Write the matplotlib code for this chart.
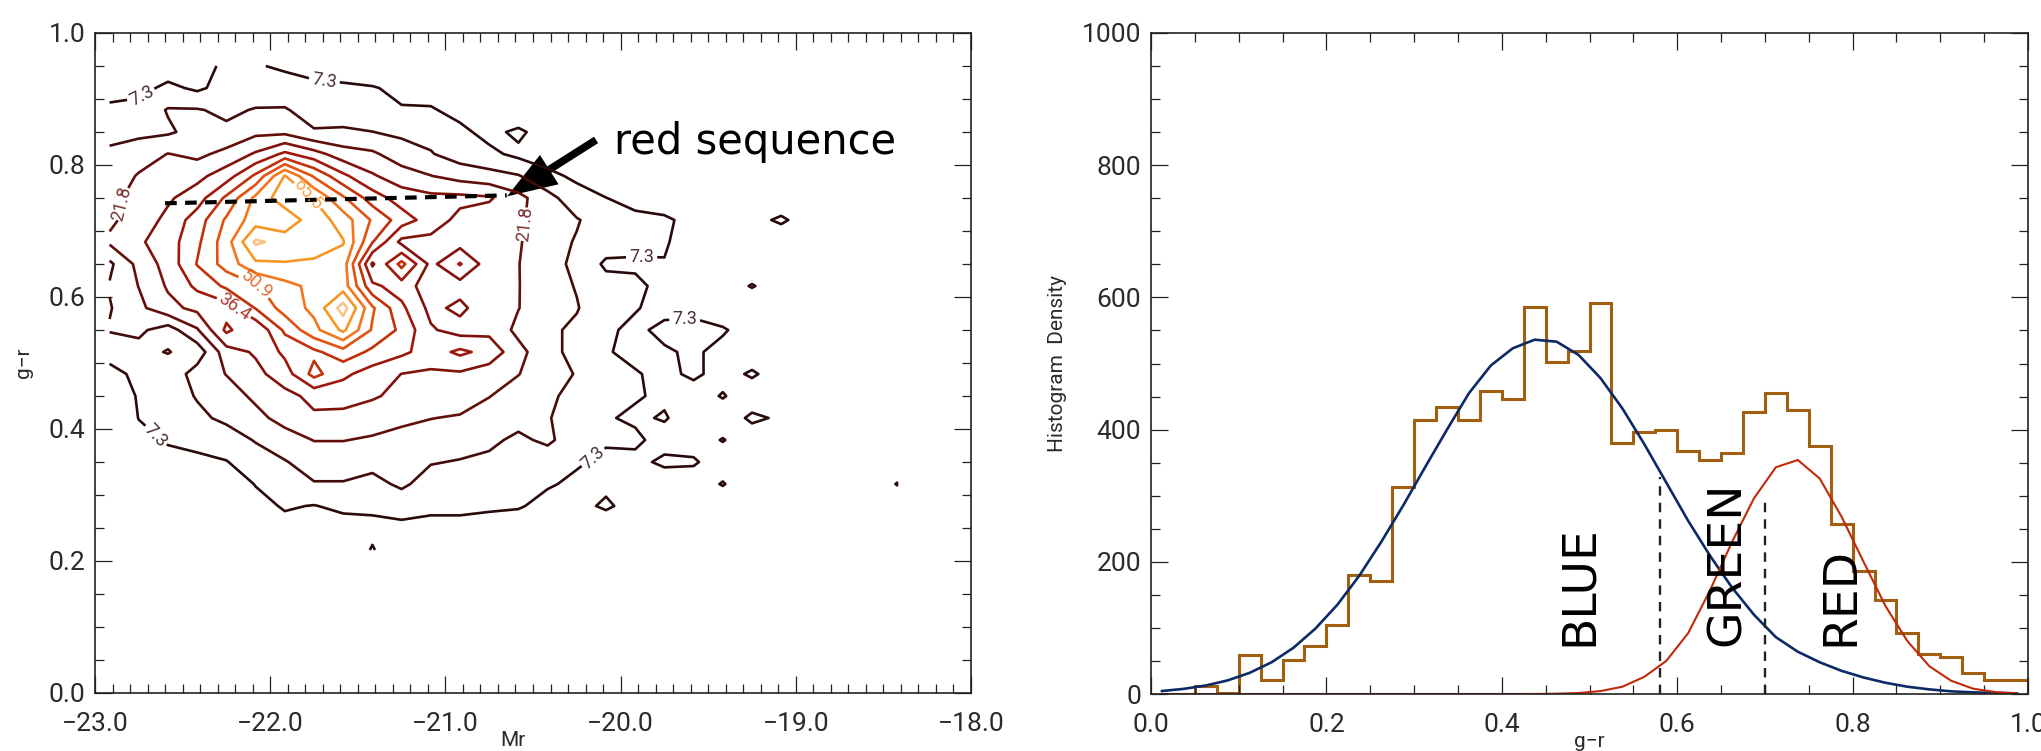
import numpy as np
import matplotlib
matplotlib.use("Agg")
from matplotlib import pyplot as plt
from matplotlib.patches import FancyArrowPatch
from matplotlib.ticker import MultipleLocator, FuncFormatter

# colour-magnitude grid: bins of 1/6 mag in Mr, 1/30 in g-r
MR_START, MR_BIN = -23.0, 1.0 / 6.0
GR_START, GR_BIN = 0.0, 1.0 / 30.0
GR_FIRST_ROW = 6  # rows below this one are empty

# galaxy counts per bin, top row (g-r ~ 0.95) first, Mr from -22.92 rightwards
counts_rows = [
    [0, 0, 3, 4, 9, 8, 6, 3, 2, 0, 0, 0, 0, 0, 0, 0, 0, 0, 0, 0, 0, 0, 0, 0, 0, 0, 0, 0],
    [4, 5, 9, 6, 10, 10, 11, 10, 9, 8, 5, 4, 2, 0, 0, 0, 0, 0, 0, 0, 0, 0, 0, 0, 0, 0, 0, 0],
    [9, 10, 15, 15, 13, 15, 15, 12, 11, 10, 8, 8, 5, 3, 0, 0, 0, 0, 0, 0, 0, 0, 0, 0, 0, 0, 0, 0],
    [12, 13, 13.5, 17, 16, 20, 20, 15, 15.5, 14.6, 13, 12, 9, 5, 9, 3, 0, 0, 0, 0, 0, 0, 0, 0, 0, 0, 0, 0],
    [16, 18, 22, 20, 24, 30, 38, 32, 25, 23, 18, 15, 11, 9, 5.5, 4, 2, 0, 0, 0, 0, 0, 0, 0, 0, 0, 0, 0],
    [17, 22.5, 25, 27, 33, 45, 66, 50, 38, 30, 25, 22, 19, 17, 15, 9, 6, 3, 0, 0, 0, 0, 0, 0, 0, 0, 0, 0],
    [20, 24, 28, 33, 45, 60, 70, 65, 52, 40, 33, 31, 31, 30, 24, 17, 10, 7.4, 5, 3, 0, 0, 0, 0, 0, 0, 0, 0],
    [20.5, 25, 31, 40, 52, 62, 60, 70, 62, 50, 40, 33, 27, 25, 23, 18, 15, 11, 9, 8.5, 5, 3, 4, 9, 2, 0, 0, 0],
    [23, 28, 33, 42, 55, 74, 70, 70, 66, 44, 27, 27, 26, 25, 22.5, 17, 14, 11, 10, 8, 4, 2, 0, 0, 0, 0, 0, 0],
    [13, 24, 32, 44, 54, 64, 65, 64, 62, 28, 46, 27, 37, 25, 22, 17, 13, 6, 6, 7, 3, 0, 0, 0, 0, 0, 0, 0],
    [15, 22, 30, 38, 45, 50, 56, 60, 62, 38, 33, 25, 26, 24, 22, 18, 14, 10, 9, 5, 3, 2, 8, 2, 0, 0, 0, 0],
    [14, 20, 27, 31, 33, 44, 54, 60, 76, 52, 38, 27, 31, 24, 22, 17, 15, 9, 8, 4, 3, 0, 0, 0, 0, 0, 0, 0],
    [15, 16, 11, 21, 38, 30, 45, 56, 67, 50, 42, 30, 26, 27, 20, 16, 13, 9, 5, 10, 12, 8.5, 2, 0, 0, 0, 0, 0],
    [10, 12, 15, 10, 26, 30, 38, 42, 48, 42, 38, 33, 38, 34, 24, 17, 12, 8, 5, 6, 9, 4, 2, 0, 0, 0, 0, 0],
    [5, 9, 9, 18, 22, 27, 33, 46, 38, 33, 29, 28, 28, 25, 22, 18, 14, 10, 8, 5, 9, 4, 8.5, 3, 0, 0, 0, 0],
    [2, 8, 11, 15, 19, 23, 27, 31, 32, 30, 27, 24, 26, 22, 19, 16, 12, 9, 8, 6, 3, 8, 2, 0, 0, 0, 0, 0],
    [0, 7.5, 10, 13, 16, 20, 24, 28, 27, 25, 23, 22, 21, 19, 17, 15, 11, 8, 6, 8, 3, 2, 9, 6, 0, 0, 0, 0],
    [0, 5, 8, 9, 11, 15, 19, 22, 22, 21, 20, 18, 18, 16, 13, 16, 10, 8, 9, 4, 3, 7.8, 2, 0, 0, 0, 0, 0],
    [0, 3, 5, 6, 7, 11, 14, 18, 18, 17, 16, 15, 14, 13, 11, 10, 8, 6, 5, 9, 8.5, 2, 0, 0, 0, 0, 0, 0],
    [0, 0, 0, 0, 3, 7.6, 10, 14, 14, 12, 16, 11, 10, 10, 9, 8, 6, 5, 3, 2, 2, 8, 0, 0, 0, 0, 0, 8],
    [0, 0, 0, 0, 0, 5, 8, 7, 9, 9, 9.5, 9, 9, 8.5, 8, 5, 4, 9, 3, 0, 0, 0, 0, 0, 0, 0, 0, 0],
    [0, 0, 0, 0, 0, 0, 5, 3, 4, 5, 6, 5, 5, 4, 3, 0, 0, 0, 0, 0, 0, 0, 0, 0, 0, 0, 0, 0],
    [0, 0, 0, 0, 0, 0, 0, 0, 0, 8, 0, 0, 0, 0, 0, 0, 0, 0, 0, 0, 0, 0, 0, 0, 0, 0, 0, 0],
]

contour_levels = [7.3, 14.5, 21.8, 29.1, 36.4, 43.6, 50.9, 58.2, 65.5, 72.7]
level_colors = ["#280a0a", "#420c0a", "#620f0c", "#80120c", "#a0180c",
                "#c2300c", "#e2520f", "#f4761a", "#f89624", "#f9c48a"]
# every other level carries a label
label_spots = {
    7.3: [(-22.76, 0.912), (-21.69, 0.930), (-19.88, 0.662), (-19.63, 0.556),
          (-22.63, 0.395), (-20.05, 0.332)],
    21.8: [(-22.87, 0.742), (-20.50, 0.709)],
    36.4: [(-22.20, 0.586)],
    50.9: [(-22.07, 0.622)],
    65.5: [(-21.74, 0.763)],
}

# g-r histogram, bins of 0.025 starting at 0.05
hist_start, hist_bin = 0.05, 0.025
hist_density = [12, 2, 59, 21, 52, 72, 104, 180, 171, 313,
                415, 434, 414, 459, 446, 585, 503, 519, 592, 379,
                396, 399, 367, 354, 364, 427, 455, 430, 375, 257,
                186, 142, 93, 60, 56, 32, 21, 21]

# two-component fit sampled at bin centres 0.0125 ... 0.9875
fit_blue = [4.5, 7.8, 12.9, 20.6, 32, 48, 70, 99, 135, 179,
            230, 285, 343, 400, 455, 497, 523, 536, 533, 513,
            478, 432, 378, 320, 262, 209, 161, 120, 86, 64,
            48, 35, 25, 17, 11, 7, 4, 2.5, 1.5, 1]
fit_red = [0, 0, 0, 0, 0, 0, 0, 0, 0, 0,
           0, 0, 0, 0, 0, 0, 0, 0.1, 0.5, 1.5,
           4.4, 11, 26, 50, 92, 157, 230, 296, 343, 354,
           326, 268, 200, 133, 80, 42, 20, 8, 3, 1]

green_valley = [(0.58, 328), (0.70, 296)]
zone_names = [("BLUE", 0.488), ("GREEN", 0.657), ("RED", 0.787)]

TICK_FONT = ["Roboto", "DejaVu Sans"]
TEXT_GREY = "#2a2a2a"


def style_ticks(ax, xmajor, xminor, ymajor, yminor, xfmt, yfmt):
    ax.xaxis.set_major_locator(MultipleLocator(xmajor))
    ax.xaxis.set_minor_locator(MultipleLocator(xminor))
    ax.yaxis.set_major_locator(MultipleLocator(ymajor))
    ax.yaxis.set_minor_locator(MultipleLocator(yminor))
    ax.xaxis.set_major_formatter(FuncFormatter(lambda v, p: (xfmt % v).replace("-", "\u2212")))
    ax.yaxis.set_major_formatter(FuncFormatter(lambda v, p: yfmt % v))
    ax.tick_params(which="both", direction="in", top=True, right=True,
                   color="#222222", width=0.9, labelsize=19, labelcolor=TEXT_GREY)
    ax.tick_params(which="major", length=12)
    ax.tick_params(which="minor", length=6.5)
    ax.tick_params(axis="x", which="major", pad=14)
    ax.tick_params(axis="y", which="major", pad=7)
    for lab in ax.get_xticklabels() + ax.get_yticklabels():
        lab.set_family(TICK_FONT)
    for sp in ax.spines.values():
        sp.set_linewidth(1.2)
        sp.set_color("#222222")


fig = plt.figure(figsize=(20.41, 7.51), dpi=100)
W, H = 2041.0, 751.0

# left: colour-magnitude contours
ax1 = fig.add_axes([95 / W, 1 - 693 / H, 876 / W, 660 / H])
grid = np.array(counts_rows[::-1], dtype=float)
mr = MR_START + (np.arange(grid.shape[1]) + 0.5) * MR_BIN
gr = GR_START + (np.arange(grid.shape[0]) + GR_FIRST_ROW + 0.5) * GR_BIN
for lev, col in zip(contour_levels, level_colors):
    cs = ax1.contour(mr, gr, grid, levels=[lev], colors=[col], linewidths=1.9)
    if lev in label_spots:
        texts = ax1.clabel(cs, manual=label_spots[lev], fmt="%.1f", inline=True,
                           inline_spacing=3, fontsize=13)
        for t in texts:
            t.set_family(TICK_FONT)
            t.set_alpha(0.85)

ax1.plot([-22.60, -20.65], [0.742, 0.754], color="black", lw=3,
         dashes=(2.8, 2.0))
ax1.add_patch(FancyArrowPatch((-20.14, 0.838), (-20.648, 0.7524),
                              arrowstyle="simple,head_length=3.6,head_width=2.5,tail_width=0.55",
                              mutation_scale=10, color="black", lw=0,
                              shrinkA=0, shrinkB=0))
ax1.text(-20.04, 0.817, "red sequence", fontsize=30, color="black",
         family="DejaVu Sans", ha="left", va="baseline")

ax1.set_xlim(-23, -18)
ax1.set_ylim(0, 1)
style_ticks(ax1, 1.0, 0.1, 0.2, 0.05, "%.1f", "%.1f")
ax1.set_xlabel("Mr", family=TICK_FONT, fontsize=15, color=TEXT_GREY)
ax1.xaxis.set_label_coords(0.477, -0.058)
ax1.set_ylabel("g\u2212r", family=TICK_FONT, fontsize=15, color=TEXT_GREY)
ax1.yaxis.set_label_coords(-0.071, 0.5)

# right: g-r histogram with blue / red components
ax2 = fig.add_axes([1151 / W, 1 - 694 / H, 877 / W, 661 / H])
edges = hist_start + np.arange(len(hist_density) + 1) * hist_bin
ax2.stairs(hist_density, edges, color="#a0600f", lw=2.2, baseline=0)
centres = 0.0125 + np.arange(len(fit_blue)) * 0.025
ax2.plot(centres, fit_blue, color="#0b2a66", lw=1.9)
ax2.plot(centres, fit_red, color="#c2290c", lw=1.5)
for x, top in green_valley:
    ax2.plot([x, x], [0, top], color="#222222", lw=1.7, dashes=(4, 3))
for name, x in zone_names:
    ax2.text(x, 72, name, rotation=90, ha="center", va="bottom",
             fontsize=34, color="black", family="DejaVu Sans")

ax2.set_xlim(0, 1)
ax2.set_ylim(0, 1000)
style_ticks(ax2, 0.2, 0.05, 200, 50, "%.1f", "%.0f")
ax2.set_xlabel("g\u2212r", family=TICK_FONT, fontsize=15, color=TEXT_GREY)
ax2.xaxis.set_label_coords(0.5, -0.058)
ax2.set_ylabel("Histogram  Density", family=TICK_FONT, fontsize=15,
               color=TEXT_GREY)
ax2.yaxis.set_label_coords(-0.096, 0.5)

fig.savefig("out.png", dpi=100)
